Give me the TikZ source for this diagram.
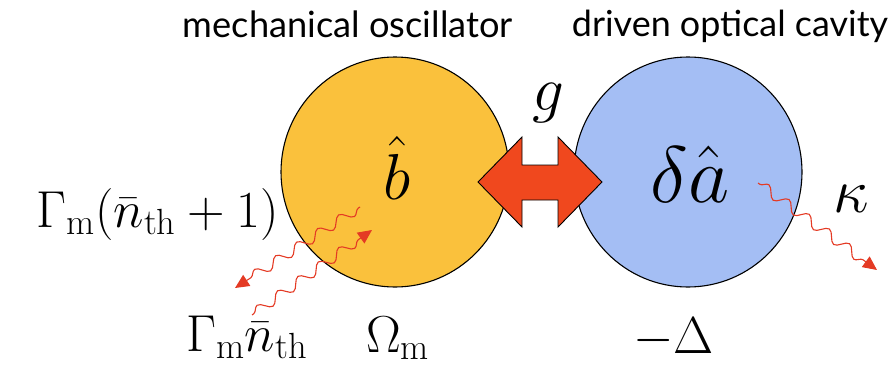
\RequirePackage{fix-cm}
\documentclass[tikz,border=0pt]{standalone}
\usepackage{fontspec}
\newfontfamily\titlefont{Lato}
\usetikzlibrary{arrows.meta,decorations.pathmorphing}
\definecolor{mechyellow}{RGB}{250,193,60}
\definecolor{cavblue}{RGB}{164,190,244}
\definecolor{arrowred}{RGB}{240,72,30}
\definecolor{wavered}{RGB}{228,58,36}
\tikzset{
  mode/.style={draw=black, line width=1.1pt, inner sep=0pt},
  lbl/.style={inner sep=0pt, text=black},
  wave/.style={draw=wavered, line width=1.1pt, decorate,
    decoration={snake, segment length=25pt, amplitude=5pt, pre length=2pt, post length=12pt},
    -{Triangle[length=14pt,width=13pt,fill=wavered]}},
  coupling/.style={fill=arrowred, draw=black, line width=0.9pt, line join=miter}
}
\begin{document}
\begin{tikzpicture}[x=1pt,y=-1pt]
\useasboundingbox (0,0) rectangle (896,364);
% oscillator and cavity
\coordinate (osc) at (395,172);
\coordinate (cav) at (688,172);
\draw[mode, fill=mechyellow] (osc) ellipse [x radius=114, y radius=115];
\draw[mode, fill=cavblue] (cav) ellipse [x radius=114, y radius=115];
% coupling double arrow
\coordinate (c) at (540,182);
\draw[coupling] (478,182) -- (522,137) -- (522,165) -- (558,165) -- (558,137)
  -- (602,182) -- (558,227) -- (558,200) -- (522,200) -- (522,227) -- cycle;
% titles
\node[lbl, anchor=base] (t1) at (348,37) {\resizebox{330pt}{!}{\titlefont mechanical oscillator}};
\node[lbl, anchor=base] (t2) at (730,37) {\resizebox{316pt}{!}{\titlefont driven optical cavity}};
% mode labels
\node[lbl, anchor=base] (bhat) at (397,199) {\fontsize{65}{70}\selectfont $\hat{b}$};
\node[lbl, anchor=base] (ahat) at (690,202) {\fontsize{80}{86}\selectfont $\delta\hat{a}$};
\node[lbl, anchor=base] (g) at (548,110) {\fontsize{63}{70}\selectfont $g$};
\node[lbl, anchor=base] (kappa) at (851,212) {\fontsize{63}{70}\selectfont $\kappa$};
% rate labels
\node[lbl, anchor=base east] (gup) at (279,227) {\fontsize{52}{60}\selectfont $\Gamma_\mathrm{m}(\bar{n}_\mathrm{th}+1)$};
\node[lbl, anchor=base west] (gdown) at (186,351) {\fontsize{52}{60}\selectfont $\Gamma_\mathrm{m}\bar{n}_\mathrm{th}$};
\node[lbl, anchor=base west] (om) at (366,352) {\fontsize{52}{60}\selectfont $\Omega_\mathrm{m}$};
\node[lbl, anchor=base west] (det) at (633,353) {\fontsize{52}{60}\selectfont $-\Delta$};
% wavy arrows
\coordinate (w1s) at (360,207);
\coordinate (w1e) at (235,288);
\coordinate (w2s) at (252,315);
\coordinate (w2e) at (372,230);
\coordinate (w3s) at (758,183);
\coordinate (w3e) at (877,270);
\draw[wave] (w1s) -- (w1e);
\draw[wave] (w2s) -- (w2e);
\draw[wave] (w3s) -- (w3e);
\end{tikzpicture}
\end{document}
